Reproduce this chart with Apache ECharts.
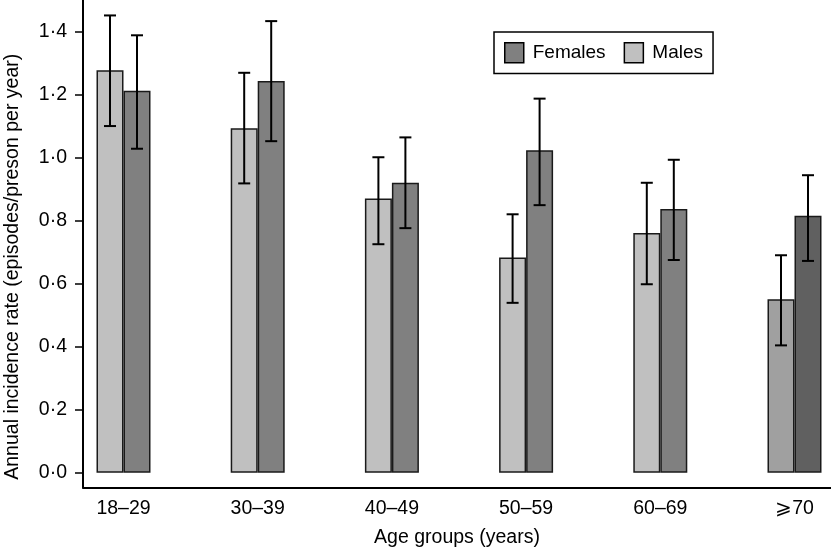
<!DOCTYPE html>
<html>
<head>
<meta charset="utf-8">
<script src="https://cdn.jsdelivr.net/npm/echarts@6.0.0/dist/echarts.min.js"></script>
<style>
html,body{margin:0;padding:0;background:#fff;}
#chart{width:831px;height:551px;}
</style>
</head>
<body>
<div id="chart"></div>
<script>
const categories = ['18–29', '30–39', '40–49', '50–59', '60–69', '⩾70'];
const malesRate = [1.277, 1.093, 0.870, 0.683, 0.761, 0.550];
const malesLow  = [1.100, 0.918, 0.725, 0.539, 0.598, 0.404];
const malesHigh = [1.451, 1.269, 1.001, 0.820, 0.920, 0.690];
const femalesRate = [1.212, 1.243, 0.920, 1.023, 0.837, 0.815];
const femalesLow  = [1.028, 1.052, 0.776, 0.849, 0.675, 0.672];
const femalesHigh = [1.388, 1.433, 1.064, 1.187, 0.993, 0.944];
const yTicks = [0, 0.2, 0.4, 0.6, 0.8, 1.0, 1.2, 1.4];

const FONT = '"Liberation Sans", Arial, Helvetica, sans-serif';
const YMIN = -0.047, YMAX = 1.5;
const BAR_W = 27;
const maleColor = '#c0c0c0', maleColorLast = '#a0a0a0';
const femaleColor = '#808080', femaleColorLast = '#606060';

function barData(vals, c, cLast) {
  return vals.map((v, i) => i === vals.length - 1 ? {value: v, itemStyle: {color: cLast}} : v);
}
function errData(low, high) {
  return low.map((l, i) => [i, l, high[i]]);
}
function errRender(offset) {
  return function (params, api) {
    const x = api.value(0);
    const lo = api.coord([x, api.value(1)]);
    const hi = api.coord([x, api.value(2)]);
    const cx = lo[0] + offset;
    const cap = 6;
    const style = {stroke: '#000', lineWidth: 2};
    return {
      type: 'group',
      children: [
        {type: 'line', shape: {x1: cx, y1: lo[1], x2: cx, y2: hi[1]}, style},
        {type: 'line', shape: {x1: cx - cap, y1: lo[1], x2: cx + cap, y2: lo[1]}, style},
        {type: 'line', shape: {x1: cx - cap, y1: hi[1], x2: cx + cap, y2: hi[1]}, style}
      ]
    };
  };
}

const chart = echarts.init(document.getElementById('chart'), null, {renderer: 'canvas'});
chart.setOption({
  animation: false,
  backgroundColor: '#fff',
  textStyle: {fontFamily: FONT, color: '#000'},
  legend: {
    data: ['Females', 'Males'],
    left: 494, top: 32,
    orient: 'horizontal',
    padding: [10, 10, 10, 10],
    itemWidth: 19, itemHeight: 20, itemGap: 18,
    icon: 'rect',
    borderColor: '#000', borderWidth: 1.5, borderRadius: 0,
    itemStyle: {borderColor: '#000', borderWidth: 1.5},
    textStyle: {fontFamily: FONT, fontSize: 19, color: '#000', padding: [0, 0, 0, 4]}
  },
  grid: [
    {left: 56.4, width: 805.2, top: 0, height: 487.5, containLabel: false, outerBoundsMode: 'none'},
    {left: 83, width: 748, top: 0, height: 487.5, containLabel: false, outerBoundsMode: 'none'}
  ],
  xAxis: [
    {
      type: 'category', gridIndex: 0, data: categories, boundaryGap: true,
      axisLine: {show: false}, axisTick: {show: false},
      axisLabel: {fontFamily: FONT, fontSize: 19.5, color: '#000', margin: 11}
    },
    {
      type: 'value', gridIndex: 1, min: 0, max: 1,
      axisLine: {show: true, onZero: false, lineStyle: {color: '#000', width: 2}},
      axisTick: {show: false}, axisLabel: {show: false}, splitLine: {show: false},
      name: 'Age groups (years)', nameLocation: 'middle', nameGap: 40,
      nameTextStyle: {fontFamily: FONT, fontSize: 19.5, color: '#000'}
    }
  ],
  yAxis: [
    {type: 'value', gridIndex: 0, min: YMIN, max: YMAX, show: false},
    {
      type: 'value', gridIndex: 1, min: YMIN, max: YMAX,
      axisLine: {show: true, onZero: false, lineStyle: {color: '#000', width: 2}},
      axisTick: {show: true, length: 8, customValues: yTicks, lineStyle: {color: '#000', width: 1.5}},
      axisLabel: {
        customValues: yTicks, margin: 16, fontFamily: FONT, fontSize: 19.5, color: '#000',
        formatter: v => v.toFixed(1).replace('.', '·')
      },
      splitLine: {show: false},
      name: 'Annual incidence rate (episodes/preson per year)',
      nameLocation: 'middle', nameGap: 60,
      nameTextStyle: {fontFamily: FONT, fontSize: 19.5, color: '#000', padding: [0, 46, 0, 0]}
    }
  ],
  series: [
    {
      name: 'Males', type: 'bar', xAxisIndex: 0, yAxisIndex: 0,
      barWidth: BAR_W, barGap: '0%',
      itemStyle: {color: maleColor, borderColor: '#1a1a1a', borderWidth: 1.5},
      data: barData(malesRate, maleColor, maleColorLast)
    },
    {
      name: 'Females', type: 'bar', xAxisIndex: 0, yAxisIndex: 0,
      barWidth: BAR_W, barGap: '0%',
      itemStyle: {color: femaleColor, borderColor: '#1a1a1a', borderWidth: 1.5},
      data: barData(femalesRate, femaleColor, femaleColorLast)
    },
    {
      name: 'MalesErr', type: 'custom', xAxisIndex: 0, yAxisIndex: 0, z: 5,
      renderItem: errRender(-BAR_W / 2), data: errData(malesLow, malesHigh),
      encode: {x: 0, y: [1, 2]}
    },
    {
      name: 'FemalesErr', type: 'custom', xAxisIndex: 0, yAxisIndex: 0, z: 5,
      renderItem: errRender(BAR_W / 2), data: errData(femalesLow, femalesHigh),
      encode: {x: 0, y: [1, 2]}
    }
  ]
});
</script>
</body>
</html>
